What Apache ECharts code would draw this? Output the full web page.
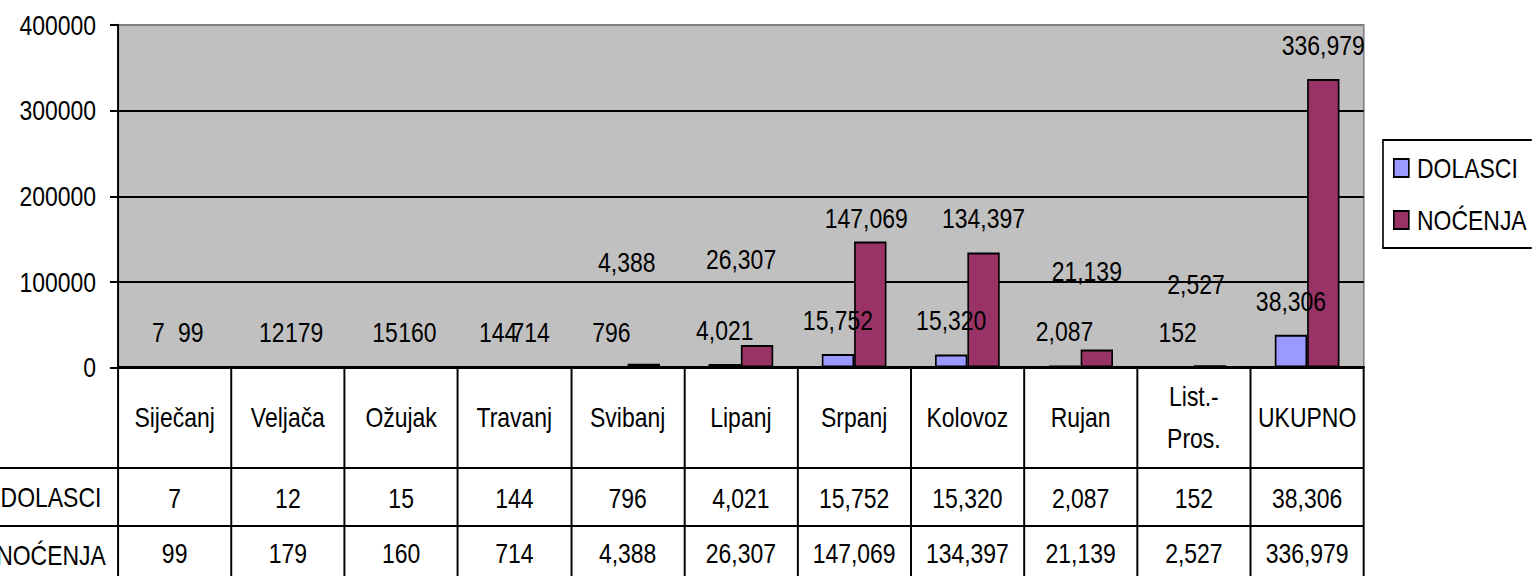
<!DOCTYPE html>
<html>
<head>
<meta charset="utf-8">
<script src="https://cdn.jsdelivr.net/npm/echarts@6/dist/echarts.min.js"></script>
<style>
html,body{margin:0;padding:0;background:#fff;overflow:hidden;width:1532px;height:576px;}
#chart{width:1868.3px;height:576px;transform:scaleX(0.82);transform-origin:0 0;}
</style>
</head>
<body>
<div id="chart"></div>
<script>
const categories = ['Siječanj','Veljača','Ožujak','Travanj','Svibanj','Lipanj','Srpanj','Kolovoz','Rujan','List.-\nPros.','UKUPNO'];
const seriesNames = ['DOLASCI','NOĆENJA'];
const dolasci = [7,12,15,144,796,4021,15752,15320,2087,152,38306];
const nocenja = [99,179,160,714,4388,26307,147069,134397,21139,2527,336979];
const yMin = 0, yMax = 400000, yStep = 100000;

// horizontal compression to mimic a narrow (Arial Narrow-like) typeface
const S = 0.82;
const X = v => v / S;

// manual nudges of NOĆENJA value labels (screen pixels), as placed in the original
const nocLabelShift = [[0,0],[0,0],[0,0],[0,0],[-17,-68],[-16,-52],[-4,11],[0,0],[-10,-44],[-14,-47],[0,0]];

const FONT = "'Liberation Sans',Arial,sans-serif";
const FS = 28;
const fmt = v => v.toLocaleString('en-US');

const chart = echarts.init(document.getElementById('chart'), null, {renderer:'svg'});
const txt = {fontFamily: FONT, fontSize: FS, color: '#000'};

chart.setOption({
  animation: false,
  textStyle: {fontFamily: FONT},
  legend: {
    orient: 'vertical', left: X(1383), top: 140,
    data: seriesNames,
    icon: 'rect', itemWidth: X(15), itemHeight: 18, itemGap: 24,
    padding: [14, X(10), 14, X(10)],
    borderColor: '#000', borderWidth: 2, backgroundColor: '#fff',
    textStyle: Object.assign({}, txt, {padding: [0,0,0,5]})
  },
  grid: [
    {left: X(118), top: 25, right: X(168), height: 342.5, outerBoundsMode: 'none',
     show: true, backgroundColor: '#c0c0c0', borderColor: '#808080', borderWidth: 2},
    {left: 0, right: X(168), top: 468, height: 116, outerBoundsMode: 'none'}
  ],
  xAxis: [
    {type: 'category', gridIndex: 0, data: categories, position: 'bottom', offset: 0,
     axisLine: {lineStyle: {color: '#000', width: 3}},
     axisTick: {show: true, length: 216.5, lineStyle: {color: '#000', width: 2.4}},
     axisLabel: Object.assign({}, txt, {interval: 0, margin: 49.5, verticalAlign: 'middle', lineHeight: 42})},
    {type: 'category', gridIndex: 0, data: categories, position: 'bottom', offset: 0,
     axisLine: {show: false}, axisTick: {show: false},
     axisLabel: Object.assign({}, txt, {interval: 0, margin: 130.5, verticalAlign: 'middle', formatter: (v, i) => fmt(dolasci[i])})},
    {type: 'category', gridIndex: 0, data: categories, position: 'bottom', offset: 0,
     axisLine: {show: false}, axisTick: {show: false},
     axisLabel: Object.assign({}, txt, {interval: 0, margin: 185.5, verticalAlign: 'middle', formatter: (v, i) => fmt(nocenja[i])})},
    {type: 'value', gridIndex: 1, show: false, min: 0, max: 1}
  ],
  yAxis: [
    {type: 'value', gridIndex: 0, min: yMin, max: yMax, interval: yStep,
     axisLine: {show: true, lineStyle: {color: '#000', width: 2.4}},
     axisTick: {show: true, length: X(8), lineStyle: {color: '#000', width: 2}},
     axisLabel: Object.assign({}, txt, {margin: X(22), formatter: v => String(v)}),
     splitLine: {show: true, lineStyle: {color: ['#000','#000','#000','#000','#808080'], width: 2}}},
    {type: 'category', gridIndex: 1, inverse: true, data: seriesNames,
     axisLine: {show: false}, axisTick: {show: false},
     axisLabel: Object.assign({}, txt, {inside: true, align: 'center', margin: X(51)}),
     splitLine: {show: true, lineStyle: {color: '#000', width: 2}}}
  ],
  series: [
    {name: seriesNames[0], type: 'bar', xAxisIndex: 0, yAxisIndex: 0,
     data: dolasci, barGap: '0%', barCategoryGap: '42.9%',
     itemStyle: {color: '#9999ff', borderColor: '#000', borderWidth: 2},
     label: Object.assign({}, txt, {show: true, position: 'top', distance: 20, formatter: p => fmt(p.value)})},
    {name: seriesNames[1], type: 'bar', xAxisIndex: 0, yAxisIndex: 0,
     data: nocenja.map((v, i) => ({value: v, label: {offset: [X(nocLabelShift[i][0]), nocLabelShift[i][1]]}})),
     barGap: '0%', barCategoryGap: '42.9%',
     itemStyle: {color: '#993366', borderColor: '#000', borderWidth: 2},
     label: Object.assign({}, txt, {show: true, position: 'top', distance: 20, formatter: p => fmt(p.value)})}
  ]
});
</script>
</body>
</html>
